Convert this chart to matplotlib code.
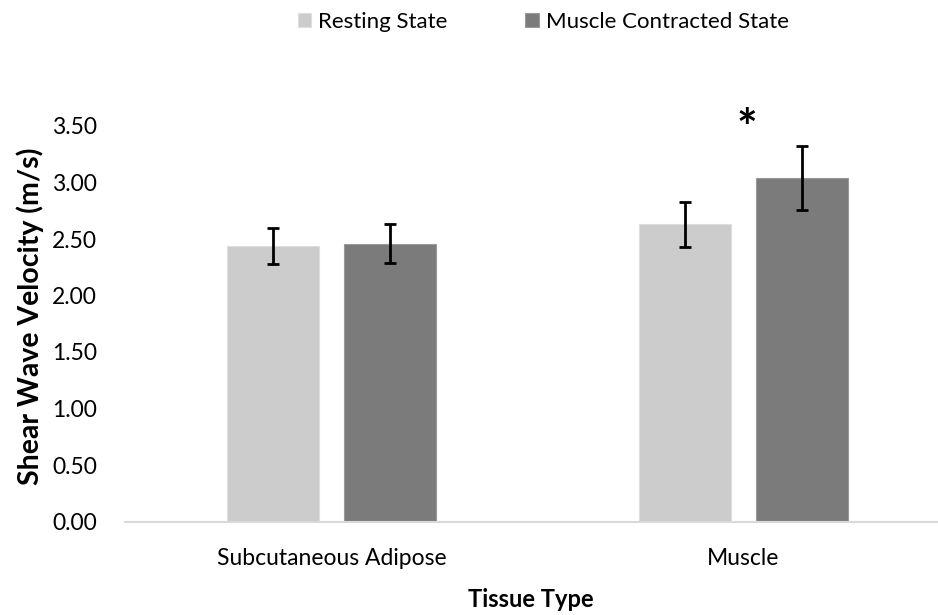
import matplotlib.pyplot as plt
import numpy as np

plt.rcParams['font.family'] = ['Lato', 'DejaVu Sans']

tissues = ['Subcutaneous Adipose', 'Muscle']
resting = [2.44, 2.63]
resting_sd = [0.16, 0.20]
contracted = [2.46, 3.04]
contracted_sd = [0.17, 0.28]

x = np.arange(len(tissues))
w = 0.224
off = 0.142

fig = plt.figure(figsize=(9.38, 6.15), dpi=100)
ax = fig.add_axes([125 / 938, 1 - 521.5 / 615, (937 - 125) / 938, (521.5 - 126) / 615])

err_kw = dict(ecolor='black', elinewidth=2.0, capsize=4.2, capthick=2.0)
ax.bar(x - off, resting, w, yerr=resting_sd, color='#cccccc', edgecolor='#dedede',
       linewidth=0.8, label='Resting State', error_kw=err_kw)
ax.bar(x + off, contracted, w, yerr=contracted_sd, color='#7b7b7b', edgecolor='#9a9a9a',
       linewidth=0.8, label='Muscle Contracted State', error_kw=err_kw)

# significance marker above the contracted muscle bar
ax.text(x[1] + 0.01, 3.46, '*', ha='center', va='center', fontsize=35,
        fontweight='bold', clip_on=False)

ax.set_xlim(-0.502, 1.471)
ax.set_ylim(0, 3.5)
yt = np.arange(0, 3.51, 0.5)
ax.set_yticks(yt)
ax.set_yticklabels([f'{v:.2f}' for v in yt])
ax.set_xticks(x)
ax.set_xticklabels(tissues)
ax.tick_params(axis='both', length=0, labelsize=16.5, colors='black')
ax.tick_params(axis='y', pad=20)
ax.tick_params(axis='x', pad=19)

for s in ['top', 'right', 'left']:
    ax.spines[s].set_visible(False)
ax.spines['bottom'].set_color('#d9d9d9')
ax.spines['bottom'].set_linewidth(1.5)

ax.set_xlabel('Tissue Type', fontsize=17, fontweight='bold', labelpad=14)
ax.set_ylabel('Shear Wave Velocity (m/s)', fontsize=20.5, fontweight='bold', labelpad=6, y=0.52)

fig.legend(loc='center', bbox_to_anchor=(0.579, 0.965), ncol=2, frameon=False,
           fontsize=16, handlelength=0.62, handleheight=0.62, handletextpad=0.3,
           columnspacing=3.5)

fig.savefig('out.png', dpi=100)
